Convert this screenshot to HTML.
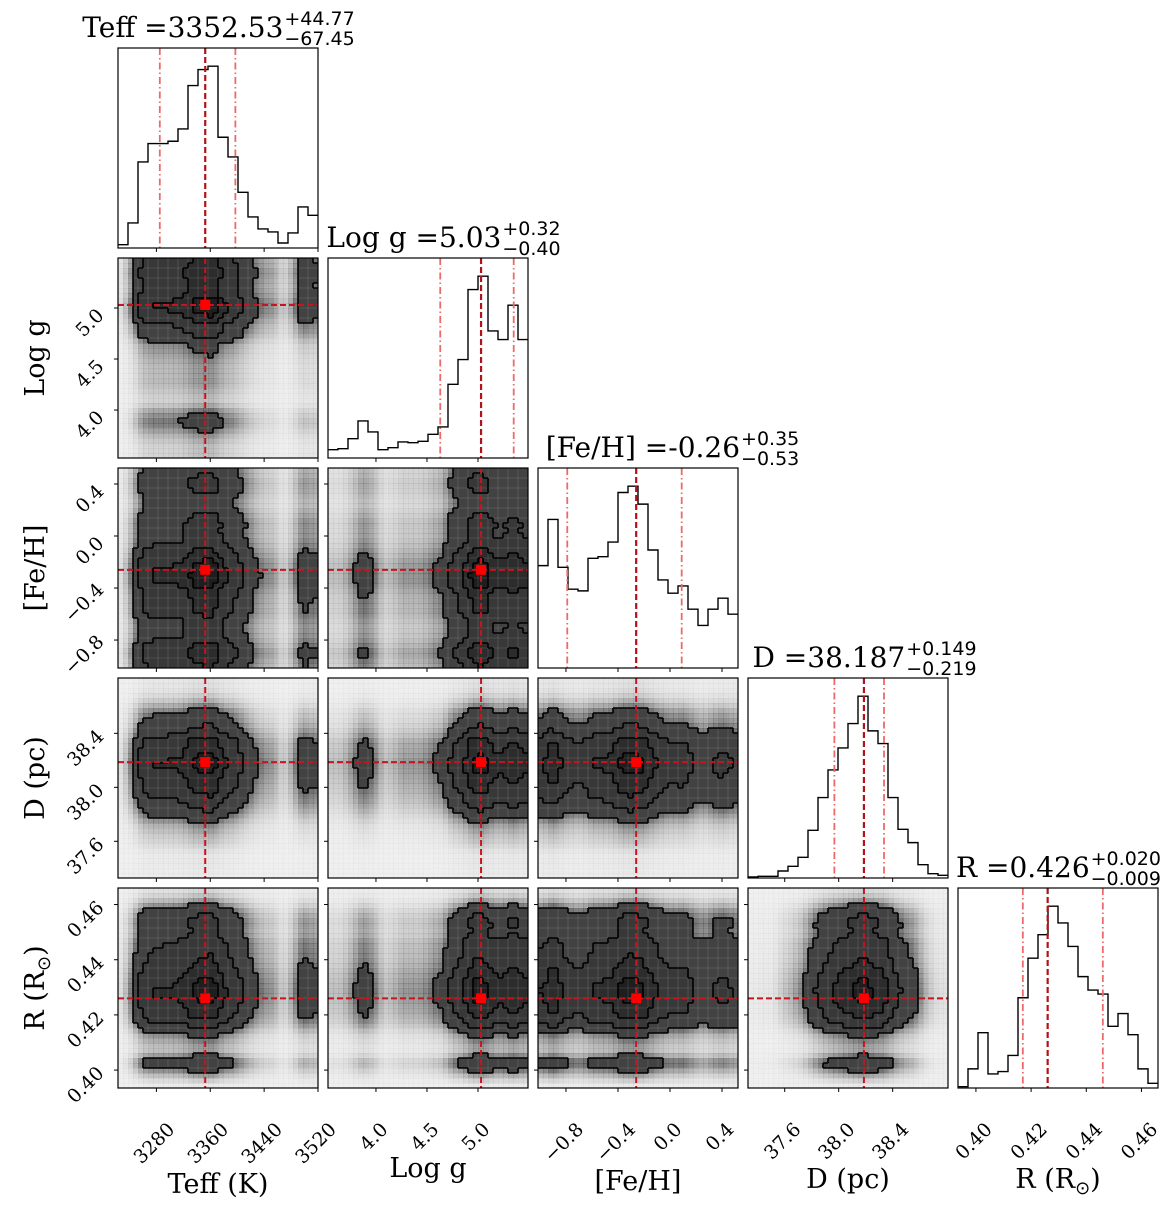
<!DOCTYPE html>
<html><head><meta charset="utf-8"><style>
html,body{margin:0;padding:0;background:#fff;}
svg{display:block;}
</style></head><body>
<svg id="fig" width="1173" height="1206" xmlns="http://www.w3.org/2000/svg"></svg>
<script>
// ---- data ----
const paramNames = ["Teff (K)", "Log g", "[Fe/H]", "D (pc)", "R (R☉)"];
const titleMain = ["Teff =3352.53", "Log g =5.03", "[Fe/H] =-0.26", "D =38.187", "R =0.426"];
const titlePlus = ["+44.77", "+0.32", "+0.35", "+0.149", "+0.020"];
const titleMinus = ["−67.45", "−0.40", "−0.53", "−0.219", "−0.009"];
const medians = [3352.53, 5.03, -0.26, 38.187, 0.426];
const qLow = [3285.08, 4.63, -0.79, 37.968, 0.417];
const qHigh = [3397.30, 5.35, 0.09, 38.336, 0.446];
const rangeLo = [3223, 3.53, -1.015, 37.328, 0.3935];
const rangeHi = [3520, 5.49, 0.523, 38.81, 0.466];
const histTeff = [10,75,258,313,313,320,357,487,535,545,332,273,167,93,57,48,15,45,123,98];
const histLogg = [25,28,58,111,78,25,31,48,46,50,71,93,221,295,505,545,381,355,458,355];
const histFeH = [308,447,303,237,232,330,335,379,528,547,493,355,265,225,247,177,128,177,210,162];
const histD = [3,5,5,21,35,62,143,241,324,390,463,545,441,403,241,146,106,40,13,8];
const histR = [4,57,165,42,49,97,269,387,457,542,492,422,332,292,280,184,222,159,57,14];
const hists = [histTeff, histLogg, histFeH, histD, histR];
const ticksTeff = [3280, 3360, 3440, 3520];
const ticksLogg = [4.0, 4.5, 5.0];
const ticksFeH = [-0.8, -0.4, 0.0, 0.4];
const ticksD = [37.6, 38.0, 38.4];
const ticksR = [0.40, 0.42, 0.44, 0.46];
const tickLists = [ticksTeff, ticksLogg, ticksFeH, ticksD, ticksR];
const tickLabelsTeff = ["3280","3360","3440","3520"];
const tickLabelsLogg = ["4.0","4.5","5.0"];
const tickLabelsFeH = ["−0.8","−0.4","0.0","0.4"];
const tickLabelsD = ["37.6","38.0","38.4"];
const tickLabelsR = ["0.40","0.42","0.44","0.46"];
const tickLabelLists = [tickLabelsTeff, tickLabelsLogg, tickLabelsFeH, tickLabelsD, tickLabelsR];

// ---- layout ----
const NS = "http://www.w3.org/2000/svg";
const svg = document.getElementById("fig");
const S = 200, GAP = 10, X0 = 118, Y0 = 48, N = 5;
const serif = '"DejaVu Serif","Liberation Serif",serif';
const sans = '"DejaVu Sans","Liberation Sans",sans-serif';
function px(c){return X0 + c*(S+GAP);}
function py(r){return Y0 + r*(S+GAP);}
function sx(p,v,c){return px(c) + (v-rangeLo[p])/(rangeHi[p]-rangeLo[p])*S;}
function sy(p,v,r){return py(r) + S - (v-rangeLo[p])/(rangeHi[p]-rangeLo[p])*S;}
function mk(tag, attrs, parent){
  const e = document.createElementNS(NS, tag);
  for (const k in attrs) e.setAttribute(k, attrs[k]);
  (parent||svg).appendChild(e);
  return e;
}
const defs = mk("defs", {});

function densityGrid(hx, hy){
  const n = hx.length, m = hy.length;
  const base = [];
  let mx = 0;
  for (let j=0;j<m;j++){ base.push([]); for (let i=0;i<n;i++){ const v=hx[i]*hy[j]; base[j].push(v); if(v>mx) mx=v; } }
  const G = 40, out = [];
  for (let j=0;j<G;j++){ out.push([]);
    for (let i=0;i<G;i++){
      let fx = (i+0.5)/G*n - 0.5, fy = (j+0.5)/G*m - 0.5;
      fx = Math.max(0, Math.min(n-1, fx)); fy = Math.max(0, Math.min(m-1, fy));
      const i0=Math.floor(fx), j0=Math.floor(fy), i1=Math.min(n-1,i0+1), j1=Math.min(m-1,j0+1);
      const ax=fx-i0, ay=fy-j0;
      const v = (base[j0][i0]*(1-ax)+base[j0][i1]*ax)*(1-ay) + (base[j1][i0]*(1-ax)+base[j1][i1]*ax)*ay;
      out[j].push(v/mx);
    }
  }
  return out;
}
const LEV = [0.12, 0.3, 0.55, 0.82];

for (let r=0;r<N;r++){
  for (let c=0;c<=r;c++){
    const x0=px(c), y0=py(r);
    const g = mk("g", {});
    
    
    const clipId = "clip"+r+"_"+c;
    const cp = mk("clipPath", {id: clipId}, defs);
    mk("rect", {x:x0, y:y0, width:S, height:S}, cp);
    if (r===c){
      const h = hists[c];
      const ymax = Math.max(...h)*1.1;
      const nb = h.length;
      let d = "";
      for (let i=0;i<nb;i++){
        const xa = x0 + i/nb*S, xb = x0 + (i+1)/nb*S;
        const yy = y0 + S - h[i]/ymax*S;
        d += (i===0 ? "M"+xa+","+yy : "L"+xa+","+yy) + " L"+xb+","+yy+" ";
      }
      const step = mk("path", {d:d, fill:"none", stroke:"#000", "stroke-width":1.4}, g);
      
      
      [qLow[c], qHigh[c]].forEach(q=>{
        const xq = sx(c,q,c);
        const l = mk("line", {x1:xq,x2:xq,y1:y0,y2:y0+S, stroke:"#ee6a6a","stroke-width":1.8,"stroke-dasharray":"7,3,1.5,3"}, g);
        
        
      });
      const xm = sx(c,medians[c],c);
      const ml = mk("line", {x1:xm,x2:xm,y1:y0,y2:y0+S, stroke:"#b0141a","stroke-width":2.2,"stroke-dasharray":"6,3"}, g);
      
      
    } else {
      const grid = densityGrid(hists[c], hists[r]);
      const G = grid.length, cs = S/G;
      const cg = mk("g", {"clip-path":"url(#"+clipId+")"}, g);
      for (let j=0;j<G;j++){
        for (let i=0;i<G;i++){
          const dv = grid[j][i];
          let fill, op = 1;
          if (dv>LEV[3]) fill="#1e1e1e";
          else if (dv>LEV[2]) fill="#2c2c2c";
          else if (dv>LEV[1]) fill="#383838";
          else if (dv>LEV[0]) fill="#424242";
          else { fill="#000"; op = Math.min(0.6, 0.06 + dv/LEV[0]*0.5); }
          mk("rect", {x:x0+i*cs, y:y0+S-(j+1)*cs, width:cs+0.3, height:cs+0.3, fill:fill, "fill-opacity":op}, cg);
        }
      }
      for (let k=1;k<20;k++){
        mk("line",{x1:x0+k*10,x2:x0+k*10,y1:y0,y2:y0+S,stroke:"#fff","stroke-opacity":0.15,"stroke-width":0.8},cg);
        mk("line",{x1:x0,x2:x0+S,y1:y0+k*10,y2:y0+k*10,stroke:"#fff","stroke-opacity":0.15,"stroke-width":0.8},cg);
      }
      let cd = "";
      LEV.forEach(t=>{
        for (let j=0;j<G;j++) for (let i=0;i<G;i++){
          const a = grid[j][i] >= t;
          if (i+1<G && a !== (grid[j][i+1] >= t)){ const xx=x0+(i+1)*cs; cd += "M"+xx+","+(y0+S-(j+1)*cs)+"V"+(y0+S-j*cs); }
          if (j+1<G && a !== (grid[j+1][i] >= t)){ const yy=y0+S-(j+1)*cs; cd += "M"+(x0+i*cs)+","+yy+"H"+(x0+(i+1)*cs); }
        }
      });
      const ct = mk("path", {d:cd, fill:"none", stroke:"#000", "stroke-width":1.6}, cg);
      
      
      const xm = sx(c,medians[c],c), ym = sy(r,medians[r],r);
      const vl = mk("line", {x1:xm,x2:xm,y1:y0,y2:y0+S, stroke:"#c8141e","stroke-width":2,"stroke-dasharray":"6,3"}, cg);
      
      
      const hl = mk("line", {x1:x0,x2:x0+S,y1:ym,y2:ym, stroke:"#c8141e","stroke-width":2,"stroke-dasharray":"6,3"}, cg);
      
      
      const mkr = mk("rect", {x:xm-5, y:ym-5, width:10, height:10, fill:"#ff0000"}, cg);
      
      
    }
    const fr = mk("rect", {x:x0, y:y0, width:S, height:S, fill:"none", stroke:"#000", "stroke-width":1.2}, g);
    
    
    tickLists[c].forEach((t,k)=>{
      const xt = sx(c,t,c);
      mk("line",{x1:xt,x2:xt,y1:y0+S,y2:y0+S+4,stroke:"#000","stroke-width":1},g);
      if (r===N-1){
        const tx = mk("text",{"font-family":serif,"font-size":19,"text-anchor":"middle","dominant-baseline":"central"},g);
        tx.textContent = tickLabelLists[c][k];
        
        
        const w = tx.getComputedTextLength(), hh = 15;
        const cx = xt-2, cy = y0+S+33+(w+hh)*0.3536;
        tx.setAttribute("x",cx); tx.setAttribute("y",cy);
        tx.setAttribute("transform","rotate(-45 "+cx+" "+cy+")");
      }
    });
    if (r!==c){
      tickLists[r].forEach((t,k)=>{
        const yt = sy(r,t,r);
        mk("line",{x1:x0-4,x2:x0,y1:yt,y2:yt,stroke:"#000","stroke-width":1},g);
        if (c===0){
          const tx = mk("text",{"font-family":serif,"font-size":19,"text-anchor":"middle","dominant-baseline":"central"},g);
          tx.textContent = tickLabelLists[r][k];
          
          
          const w = tx.getComputedTextLength(), hh = 15;
          const cx = x0-12-(w+hh)*0.3536, cy = yt+15;
          tx.setAttribute("x",cx); tx.setAttribute("y",cy);
          tx.setAttribute("transform","rotate(-45 "+cx+" "+cy+")");
        }
      });
    }
  }
}

const titleShift = [0, 15, 34, 16, 0];
for (let c=0;c<N;c++){
  const x0=px(c), y0=py(c);
  const g = mk("g",{});
  
  
  const tm = mk("text",{"font-family":serif,"font-size":28,y:y0-11},g);
  tm.textContent = titleMain[c];
  const tp = mk("text",{"font-family":sans,"font-size":19,y:y0-23},g);
  tp.textContent = titlePlus[c];
  const tn = mk("text",{"font-family":sans,"font-size":19,y:y0-3},g);
  tn.textContent = titleMinus[c];
  const wm = tm.getComputedTextLength();
  const ws = Math.max(tp.getComputedTextLength(), tn.getComputedTextLength());
  const start = x0 + S/2 - (wm+ws)/2 + titleShift[c];
  tm.setAttribute("x", start);
  tp.setAttribute("x", start+wm+1);
  tn.setAttribute("x", start+wm+1);
}

const xLabY = [1193, 1177, 1190, 1188, 1188];
for (let c=0;c<N;c++){
  const t = mk("text",{"font-family":serif,"font-size":27,"text-anchor":"middle",x:px(c)+S/2,y:xLabY[c]});
  
  
  if (c===4){ t.textContent = "R (R"; const s=mk("tspan",{"font-family":sans,"font-size":18,dy:6},t); s.textContent="⊙"; const e=mk("tspan",{dy:-6},t); e.textContent=")"; }
  else t.textContent = paramNames[c];
}
const yLabX = [0, 44, 44, 44, 44];
for (let r=1;r<N;r++){
  const cy = py(r)+S/2;
  const t = mk("text",{"font-family":serif,"font-size":27,"text-anchor":"middle",x:yLabX[r],y:cy,transform:"rotate(-90 "+yLabX[r]+" "+cy+")"});
  
  
  if (r===4){ t.textContent = "R (R"; const s=mk("tspan",{"font-family":sans,"font-size":18,dy:6},t); s.textContent="⊙"; const e=mk("tspan",{dy:-6},t); e.textContent=")"; }
  else t.textContent = paramNames[r];
}
</script>
</body></html>
